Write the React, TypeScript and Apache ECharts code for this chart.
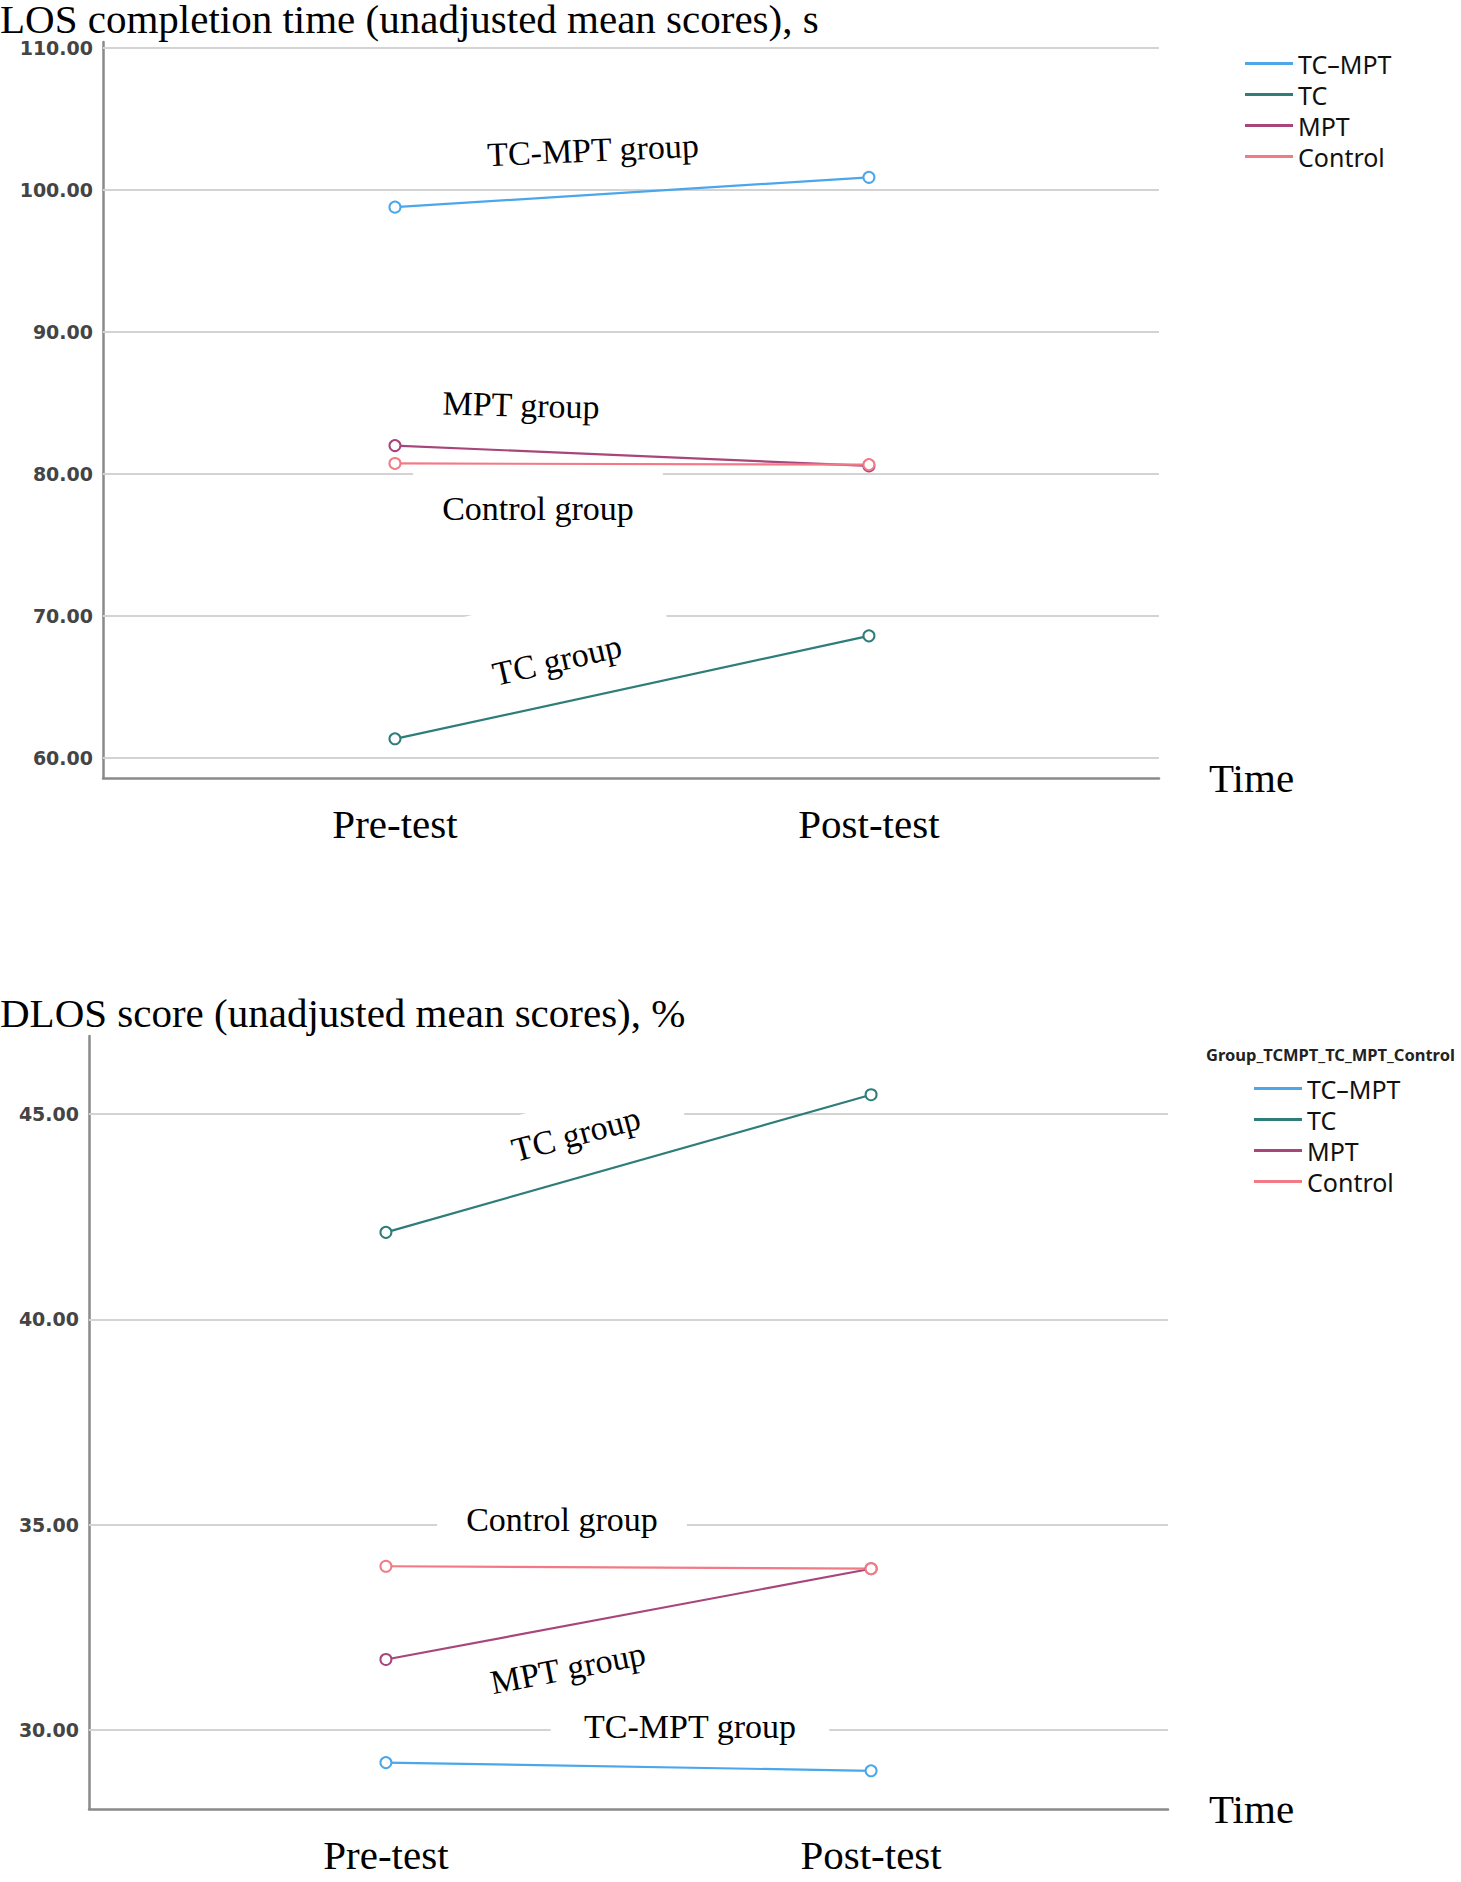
import React, { useEffect, useRef } from "react";
import * as echarts from "echarts";

const xCategories = ["Pre-test", "Post-test"];
const groups = ["TC-MPT", "TC", "MPT", "Control"];
const groupColors = ["#4BA7EA", "#2E7D79", "#A8457A", "#F27A85"];

const losPre = [98.79, 61.35, 82.0, 80.74];
const losPost = [100.89, 68.6, 80.57, 80.66];
const losTicks = [60, 70, 80, 90, 100, 110];

const dlosPre = [29.21, 42.12, 31.72, 33.99];
const dlosPost = [29.01, 45.47, 33.93, 33.93];
const dlosTicks = [30, 35, 40, 45];

const SERIF = '"Liberation Serif", "Times New Roman", serif';
const SANS = '"Noto Sans", "Open Sans", sans-serif';
const LABEL_FONT = `34px ${SERIF}`;

function measure(text: string, font: string) {
  const c = document.createElement("canvas").getContext("2d");
  if (!c) return text.length * 16;
  c.font = font;
  return c.measureText(text).width;
}

function label(text: string, cx: number, cy: number, deg: number, pad: number[]) {
  const th = (deg * Math.PI) / 180;
  const w = measure(text, LABEL_FONT);
  const h = 36;
  return {
    type: "group",
    x: cx,
    y: cy,
    rotation: th,
    silent: true,
    children: [
      {
        type: "rect",
        z: 2,
        silent: true,
        shape: { x: -w / 2 - pad[3], y: -h / 2 - pad[0], width: w + pad[1] + pad[3], height: h + pad[0] + pad[2] },
        style: { fill: "#fff" },
      },
      {
        type: "text",
        z: 2,
        z2: 10,
        silent: true,
        style: {
          text,
          x: 0,
          y: 0,
          font: LABEL_FONT,
          fill: "#000",
          align: "center",
          verticalAlign: "middle",
        },
      },
    ],
  };
}

function xAxisCfg(gridIndex: number, min: number, max: number, nameGap: number, namePadBottom: number) {
  return {
    type: "value",
    gridIndex,
    min,
    max,
    name: "Time",
    nameLocation: "end",
    nameGap,
    nameTextStyle: { fontFamily: SERIF, fontSize: 41, color: "#000", padding: [0, 0, namePadBottom, 0] },
    axisLine: { show: true, onZero: false, lineStyle: { color: "#8a8a8a", width: 2.5 } },
    axisTick: { show: false },
    splitLine: { show: false },
    axisLabel: {
      customValues: [0, 1],
      margin: 25,
      fontFamily: SERIF,
      fontSize: 41,
      color: "#000",
      formatter: (v: number) =>
        Math.abs(v - Math.round(v)) < 1e-6 && xCategories[Math.round(v)] ? xCategories[Math.round(v)] : "",
    },
  };
}

function yAxisCfg(gridIndex: number, min: number, max: number, ticks: number[]) {
  return {
    type: "value",
    gridIndex,
    min,
    max,
    axisLine: { show: true, onZero: false, lineStyle: { color: "#8a8a8a", width: 2.5 } },
    axisTick: { show: false },
    splitLine: { show: false },
    axisLabel: {
      customValues: ticks,
      margin: 10,
      fontFamily: '"DejaVu Sans", sans-serif',
      fontWeight: "bold",
      fontSize: 19,
      color: "#444",
      formatter: (v: number) => v.toFixed(2),
    },
  };
}

function gridSeries(idx: number, ticks: number[]) {
  return {
    type: "line",
    name: "grid" + idx,
    xAxisIndex: idx,
    yAxisIndex: idx,
    data: [],
    z: 1,
    silent: true,
    markLine: {
      z: 1,
      silent: true,
      symbol: ["none", "none"],
      label: { show: false },
      emphasis: { disabled: true },
      lineStyle: { color: "#d3d3d3", width: 2, type: "solid" },
      data: ticks.map((v) => ({ yAxis: v })),
    },
  };
}

function dataSeries(idx: number, pre: number[], post: number[]) {
  return groups.map((g, i) => ({
    type: "line",
    name: g,
    xAxisIndex: idx,
    yAxisIndex: idx,
    data: [
      [0, pre[i]],
      [1, post[i]],
    ],
    z: 3,
    symbol: "emptyCircle",
    symbolSize: 11,
    lineStyle: { width: 2.2, color: groupColors[i] },
    itemStyle: { color: groupColors[i], borderWidth: 2 },
  }));
}

function legendCfg(left: number, top: number) {
  return {
    orient: "vertical",
    left,
    top,
    data: groups,
    icon: "rect",
    itemWidth: 48,
    itemHeight: 3,
    itemGap: 0,
    padding: 0,
    formatter: (name: string) => name.replace("-", "\u2013"),
    textStyle: { fontFamily: SANS, fontSize: 25, color: "#111", lineHeight: 31 },
  };
}

export default function App() {
  const ref = useRef<HTMLDivElement>(null);
  useEffect(() => {
    if (!ref.current) return;
    const chart = echarts.init(ref.current, null, { renderer: "svg" });
    const option = {
      animation: false,
      backgroundColor: "#fff",
      title: [
        {
          text: "LOS completion time (unadjusted mean scores), s",
          left: 0,
          top: 1,
          padding: 0,
          textStyle: { fontFamily: SERIF, fontSize: 41, fontWeight: "normal", color: "#000", lineHeight: 36 },
        },
        {
          text: "DLOS score (unadjusted mean scores), %",
          left: 0,
          top: 995,
          padding: 0,
          textStyle: { fontFamily: SERIF, fontSize: 41, fontWeight: "normal", color: "#000", lineHeight: 36 },
        },
        {
          text: "Group_TCMPT_TC_MPT_Control",
          left: 1206,
          top: 1044,
          padding: 0,
          textStyle: { fontFamily: SANS, fontSize: 16.5, fontWeight: "bold", color: "#222", lineHeight: 20 },
        },
      ],
      legend: [legendCfg(1245, 48), legendCfg(1254, 1073)],
      grid: [
        { left: 103, top: 42, width: 1056, height: 736 },
        { left: 89, top: 1036, width: 1079, height: 773 },
      ],
      xAxis: [xAxisCfg(0, -0.616, 1.612, 50, 8), xAxisCfg(1, -0.612, 1.612, 41, 14)],
      yAxis: [yAxisCfg(0, 58.59, 110.42, losTicks), yAxisCfg(1, 28.08, 46.9, dlosTicks)],
      series: [
        gridSeries(0, losTicks),
        gridSeries(1, dlosTicks),
        ...dataSeries(0, losPre, losPost),
        ...dataSeries(1, dlosPre, dlosPost),
      ],
      graphic: [
        label("TC-MPT group", 593, 150, 2.5, [2, 8, 2, 8]),
        label("MPT group", 521, 405, -1.5, [2, 8, 2, 8]),
        label("Control group", 538, 508, 0, [19, 29, 4, 29]),
        label("TC group", 557, 660, 13, [45, 51, 4, 20]),
        label("TC group", 576, 1134, 15, [15, 44, 4, 20]),
        label("Control group", 562, 1519, 0, [4, 29, 4, 29]),
        label("MPT group", 568, 1668, 11, [2, 6, 2, 6]),
        label("TC-MPT group", 690, 1726, 0, [4, 33, 4, 33]),
      ],
    };
    chart.setOption(option as any);
    return () => chart.dispose();
  }, []);
  return (
    <div
      ref={ref}
      style={{ position: "absolute", left: 0, top: 0, width: 1461, height: 1882, background: "#fff" }}
    />
  );
}
